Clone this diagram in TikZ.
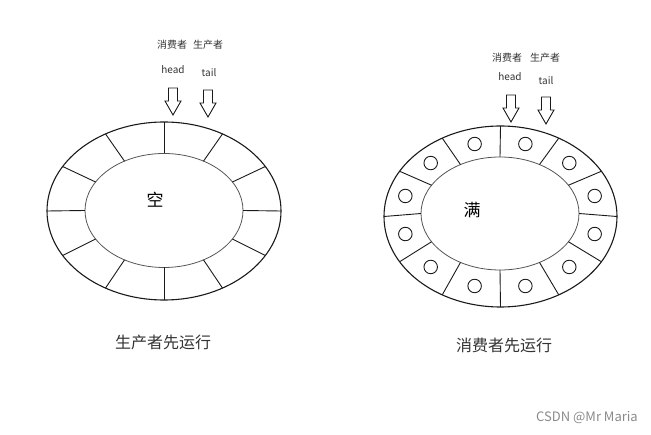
\documentclass[tikz,border=0pt]{standalone}
\usepackage{fontspec}
\newfontfamily\cjk{Noto Sans CJK SC}
\usetikzlibrary{positioning,calc}
\definecolor{ringline}{HTML}{1A1A1A}
\definecolor{innerline}{HTML}{555555}
\definecolor{labeltext}{HTML}{333333}
\definecolor{marktext}{HTML}{8A8A8A}

\begin{document}
\begin{tikzpicture}[x=1pt,y=-1pt,
outerring/.style={draw=ringline,line width=1.1pt},
innerring/.style={draw=innerline,line width=0.8pt},
spoke/.style={draw=ringline,line width=0.9pt},
slot/.style={circle,draw=ringline,line width=0.9pt,minimum size=13.5pt,inner sep=0pt},
tag/.style={font=\cjk\fontsize{10}{12}\selectfont,text=labeltext,inner sep=0pt},
caption/.style={font=\cjk\fontsize{16}{18}\selectfont,text=labeltext,inner sep=0pt},
state/.style={font=\cjk\fontsize{17}{19}\selectfont,text=black,inner sep=0pt},
hollow/.pic={\draw[ringline,line width=0.9pt] (-4.5,0) -- (4.5,0) -- (4.5,13)
  -- (8,13) -- (0,27) -- (-8,13) -- (-4.5,13) -- cycle;}
]
\useasboundingbox (0,0) rectangle (651,435);
% left ring: empty queue
\coordinate (lo) at (164,211);
\coordinate (li) at (164,210.5);
\draw[outerring] (lo) ellipse [x radius=117pt, y radius=89pt];
\draw[innerring] (li) ellipse [x radius=79pt, y radius=57pt];
\foreach \t in {0,30,...,330}
\draw[spoke] ($(li)+(\t:79pt and 57pt)$) -- ($(lo)+(\t:117pt and 89pt)$);
\node[state] (empty) at (155,200) {空};
\pic at (173,88) {hollow};
\pic at (208,90) {hollow};
\node[tag] (lcons) at (172,45) {消费者};
\node[tag] (lprod) at (208,45) {生产者};
\node[tag] (lhead) at (173,70) {head};
\node[tag] (ltail) at (209,73) {tail};
\node[caption] (lcap) at (163,342) {生产者先运行};
% right ring: full queue
\coordinate (ro) at (500.5,216.5);
\coordinate (ri) at (500,213.5);
\coordinate (rm) at (500,215);
\draw[outerring] (ro) ellipse [x radius=116.5pt, y radius=90.5pt];
\draw[innerring] (ri) ellipse [x radius=79pt, y radius=56.5pt];
\foreach \t in {0,30,...,330}
\draw[spoke] ($(ri)+(\t:79pt and 56.5pt)$) -- ($(ro)+(\t:116.5pt and 90.5pt)$);
\foreach \t in {15,45,...,345}
\node[slot] at ($(rm)+(\t:98pt and 73.5pt)$) {};
\node[state] (full) at (472,210) {满};
\pic at (511,95) {hollow};
\pic at (546,97) {hollow};
\node[tag] (rcons) at (507,58) {消费者};
\node[tag] (rprod) at (545,58) {生产者};
\node[tag] (rhead) at (510,77) {head};
\node[tag] (rtail) at (546,81) {tail};
\node[caption] (rcap) at (504,345) {消费者先运行};
\node[font=\cjk\fontsize{13}{15}\selectfont,text=marktext,inner sep=0pt] (mark) at (587,418) {CSDN @Mr Maria};
\end{tikzpicture}
\end{document}
